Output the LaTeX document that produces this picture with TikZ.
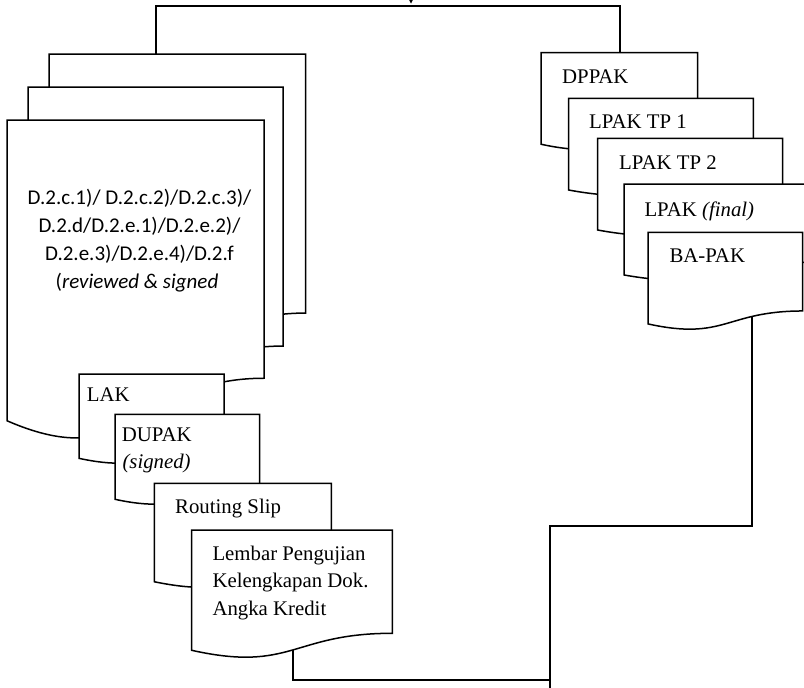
\documentclass[tikz,border=0pt]{standalone}
\usepackage{fontspec}
\setmainfont{Liberation Serif}
\newfontfamily\calfont{Carlito}
\pgfdeclarelayer{bg}
\pgfsetlayers{bg,main}
\tikzset{
  docline/.style={draw=black, fill=white, line width=1.5pt, line join=miter},
  conn/.style={draw=black, line width=1.7pt},
  lbl/.style={inner sep=0pt, anchor=base west, font=\fontsize{20.8}{25}\selectfont},
  sanslbl/.style={inner sep=0pt, anchor=base, font=\calfont\fontsize{21}{26}\selectfont},
}
% name, left, top, right, height
\newcommand\docsh[5]{%
  \pgfmathsetmacro\dMid{(#2+#4)/2}%
  \pgfmathsetmacro\dYr{#3+0.802*#5}%
  \pgfmathsetmacro\dYl{#3+0.934*#5}%
  \pgfmathsetmacro\dYc{#3+1.1075*#5}%
  \draw[docline] (#2,#3) -- (#4,#3) -- (#4,\dYr) .. controls (\dMid,\dYr) and (\dMid,\dYc) .. (#2,\dYl) -- cycle;
  \node[inner sep=0pt, minimum size=0pt] (#1) at (\dMid,#3+0.45*#5) {};
}
\begin{document}
\begin{tikzpicture}[x=1pt,y=-1pt]
\useasboundingbox (0,0) rectangle (804,688);

% left stack
\docsh{backsheet}{49}{54}{305.7}{323}
\docsh{midsheet}{28}{87}{283}{323}
\docsh{frontsheet}{7}{120}{264}{322}
\node[sanslbl] (d1) at (139.5,204.5) {D.2.c.1)/ D.2.c.2)/D.2.c.3)/};
\node[sanslbl] (d2) at (139.5,232.5) {D.2.d/D.2.e.1)/D.2.e.2)/};
\node[sanslbl] (d3) at (139.5,260.5) {D.2.e.3)/D.2.e.4)/D.2.f};
\node[sanslbl] (d4) at (137,288.5) {(\textit{reviewed \& signed}};

\docsh{lak}{79}{374}{224}{90.3}
\node[lbl] (t-lak) at (86.7,401.7) {LAK};
\docsh{dupak}{115}{414.3}{259.5}{91}
\node[lbl] (t-dupak) at (121.7,441.5) {DUPAK};
\node[lbl] (t-signed) at (122.3,468.3) {\textit{(signed)}};
\docsh{routing}{154.3}{483.3}{331.3}{105.4}
\node[lbl] (t-routing) at (175,513.5) {Routing Slip};
\docsh{lembar}{191.7}{530}{392.3}{128.8}
\node[lbl] (t-l1) at (212.3,560.5) {Lembar Pengujian};
\node[lbl] (t-l2) at (212.3,587.7) {Kelengkapan Dok.};
\node[lbl] (t-l3) at (212.3,615) {Angka Kredit};

% right stack
\docsh{dppak}{541}{52.7}{697.7}{98}
\node[lbl] (t-dppak) at (562,83.3) {DPPAK};
\docsh{tp1}{568.7}{98.3}{753.3}{98.2}
\node[lbl] (t-tp1) at (589,128.3) {LPAK TP 1};
\docsh{tp2}{597.7}{138.3}{782.7}{98.2}
\node[lbl] (t-tp2) at (619,169.3) {LPAK TP 2};
\docsh{final}{624}{184}{816}{97.4}
\node[lbl] (t-final) at (644.3,216) {LPAK \textit{(final)}};
\docsh{bapak}{648}{232.3}{802.7}{98.1}
\node[lbl] (t-bapak) at (669.3,262.7) {BA-PAK};

% connector anchor points
\coordinate (back-link) at (156,54);
\coordinate (dppak-link) at (620,52.7);
\coordinate (lembar-link) at (292.7,640);
\coordinate (junction) at (550,680);
\coordinate (exit-bottom) at (550,692);
\coordinate (bapak-link) at (752.3,300);
\coordinate (top-tip) at (411,3.5);

\begin{pgfonlayer}{bg}
  \draw[conn] (back-link) -- ++(0,-48) -| (dppak-link);
  \draw[conn] (lembar-link) |- (junction);
  \draw[conn] (exit-bottom) -- (550,526) -| (bapak-link);
\end{pgfonlayer}
\fill[black] (top-tip) -- (409.2,0) -- (412.8,0) -- cycle;
\end{tikzpicture}
\end{document}
